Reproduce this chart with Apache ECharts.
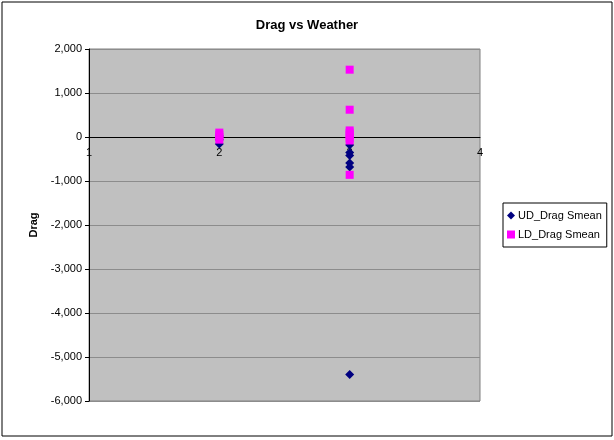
<!DOCTYPE html>
<html>
<head>
<meta charset="utf-8">
<script src="https://cdn.jsdelivr.net/npm/echarts@6/dist/echarts.min.js"></script>
<style>
  html, body { margin: 0; padding: 0; background: #fff; }
  #main { width: 614px; height: 440px; }
</style>
</head>
<body>
<div id="main"></div>
<script>
// weather category on x, drag on y
var udWeather = [2, 2, 2, 3, 3, 3, 3, 3, 3];
var udDrag = [-160, -60, 20, -180, -350, -420, -590, -680, -5400];
var ldWeather = [2, 2, 2, 2, 3, 3, 3, 3, 3, 3, 3, 3];
var ldDrag = [100, 50, 0, -60, 1530, 620, 150, 100, 50, -30, -80, -860];

function pairs(xs, ys) {
    var res = [];
    for (var i = 0; i < xs.length; i++) {
        res.push([xs[i], ys[i]]);
    }
    return res;
}

var chart = echarts.init(document.getElementById('main'));
var font = 'Arial, "Liberation Sans", sans-serif';
var option = {
    backgroundColor: '#fff',
    animation: false,
    textStyle: { fontFamily: font },
    title: {
        text: 'Drag vs Weather',
        left: 'center',
        top: 14,
        textStyle: { fontSize: 13, fontWeight: 'bold', color: '#000', fontFamily: font }
    },
    legend: {
        orient: 'vertical',
        left: 503,
        top: 203,
        padding: [7, 5, 7, 4],
        itemGap: 8,
        itemWidth: 8,
        itemHeight: 8,
        borderColor: '#000',
        borderWidth: 1,
        textStyle: { fontSize: 11, color: '#000', fontFamily: font, padding: [0, 0, 0, -2] },
        data: [
            { name: 'UD_Drag Smean', icon: 'diamond' },
            { name: 'LD_Drag Smean', icon: 'rect' }
        ]
    },
    graphic: [{
        type: 'rect',
        shape: { x: 2, y: 2, width: 610, height: 434 },
        style: { fill: 'none', stroke: '#000', lineWidth: 1 },
        z: -1
    }],
    grid: {
        left: 89,
        right: 134,
        top: 49,
        bottom: 39,
        containLabel: false,
        outerBoundsMode: 'none',
        show: true,
        backgroundColor: '#c0c0c0',
        borderColor: '#808080',
        borderWidth: 1
    },
    xAxis: {
        type: 'value',
        min: 1,
        max: 4,
        interval: 1,
        name: 'Weather',
        nameLocation: 'middle',
        nameGap: 287,
        nameTextStyle: { fontSize: 11, fontWeight: 'bold', color: '#000' },
        axisLine: { onZero: true, lineStyle: { color: '#000', width: 1 } },
        axisTick: { show: false },
        axisLabel: { fontSize: 11, color: '#000', margin: -254 },
        splitLine: { show: false }
    },
    yAxis: {
        type: 'value',
        min: -6000,
        max: 2000,
        interval: 1000,
        name: 'Drag',
        nameLocation: 'middle',
        nameGap: 50,
        nameRotate: 90,
        nameTextStyle: { fontSize: 11, fontWeight: 'bold', color: '#000' },
        axisLine: { show: true, lineStyle: { color: '#000', width: 1 } },
        axisTick: { show: true, length: 4, lineStyle: { color: '#000' } },
        axisLabel: {
            fontSize: 11,
            color: '#000',
            margin: 7,
            formatter: function (v) { return v.toLocaleString('en-US'); }
        },
        splitLine: { show: true, lineStyle: { color: '#8c8c8c', width: 1 } }
    },
    series: [
        {
            name: 'UD_Drag Smean',
            type: 'scatter',
            symbol: 'diamond',
            symbolSize: 9,
            itemStyle: { color: '#000080', opacity: 1 },
            data: pairs(udWeather, udDrag),
            z: 3
        },
        {
            name: 'LD_Drag Smean',
            type: 'scatter',
            symbol: 'rect',
            symbolSize: 8,
            itemStyle: { color: '#ff00ff', opacity: 1 },
            data: pairs(ldWeather, ldDrag),
            z: 4
        }
    ]
};
chart.setOption(option);
</script>
</body>
</html>
